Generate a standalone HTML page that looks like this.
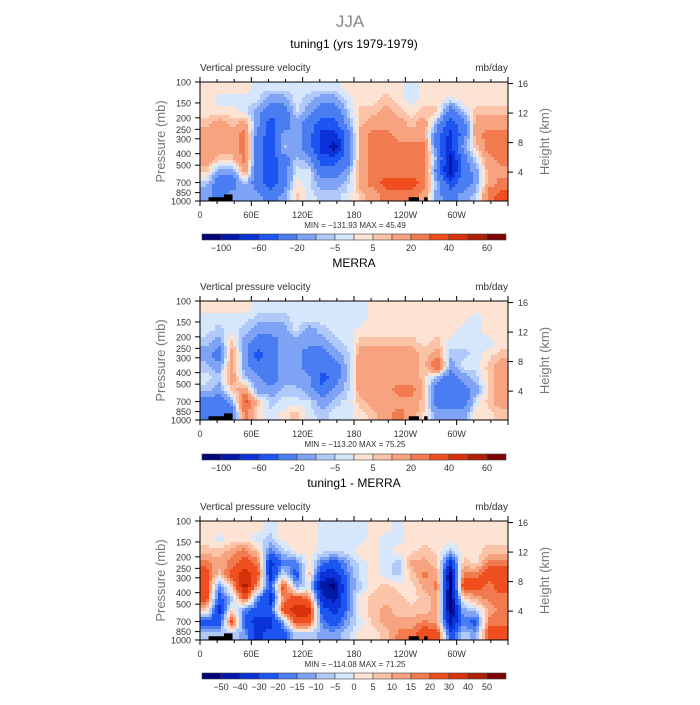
<!DOCTYPE html>
<html><head><meta charset="utf-8"><style>
body{margin:0;background:#fff;}
svg text{font-family:"Liberation Sans",sans-serif;}
</style></head><body>
<svg id="chart" width="700" height="700" xmlns="http://www.w3.org/2000/svg">
<rect width="700" height="700" fill="#fff"/>
<text x="350" y="27" text-anchor="middle" font-size="17" fill="#888">JJA</text>
</svg>
<script>
const longitudes = [0,60,120,180,240,300];
const lonLabels = ["0","60E","120E","180","120W","60W"];
const presLevels = [100,150,200,250,300,400,500,700,850,1000];
const heightTicks = [16,12,8,4];
const panelTitles = ["tuning1 (yrs 1979-1979)","MERRA","tuning1 - MERRA"];
const minMaxText = ["MIN = \u2212131.93   MAX =   45.49","MIN = \u2212113.20   MAX =   75.25","MIN = \u2212114.08   MAX =   71.25"];
const levelsAbs = [-100,-80,-60,-40,-20,-10,-5,0,5,10,20,30,40,50,60];
const levelsDiff = [-50,-40,-30,-20,-15,-10,-5,0,5,10,15,20,30,40,50];
const labelsAbs = ["\u2212100","\u221260","\u221220","\u22125","5","20","40","60"];
const labelsDiff = ["\u221250","\u221240","\u221230","\u221220","\u221215","\u221210","\u22125","0","5","10","15","20","30","40","50"];
const palette = ["#00007a","#0018a8","#0a32d8","#1c55f2","#4a7cf2","#7fa3f4","#b0c9f8","#d6e6fb","#fde3d4","#fbc4a8","#f7a37f","#f27a4f","#ef4e1e","#d8320c","#b01e04","#7e0202"];
const tuningGrid = [
[3,3,3,7,15,15,15,7,-7,-15],[3,-3,3,15,15,15,7,-15,-30,-30],[3,-3,3,7,15,15,7,-15,-30,-15],[3,-3,-3,15,25,25,25,15,-7,-15],
[-3,-3,-15,-15,-30,-30,-30,-30,-30,-15],[-3,-15,-30,-50,-50,-50,-50,-50,-50,-30],[-3,-15,-30,-30,-15,-7,-30,-30,-30,-15],[-3,-3,-3,-15,-15,-15,-7,-3,3,7],
[-3,-7,-15,-30,-30,-30,-15,-3,-3,-3],[-3,-15,-30,-50,-70,-70,-50,-30,-15,-7],[-3,-15,-30,-50,-70,-90,-50,-30,-15,-7],[3,-3,-7,-15,-30,-30,-30,-15,-7,-3],
[3,3,7,7,15,15,15,15,15,7],[3,3,7,15,25,25,25,25,25,15],[3,7,15,15,25,25,25,25,35,25],[3,3,7,15,15,25,25,25,35,25],
[-3,-3,3,7,15,25,25,25,35,25],[3,3,7,15,15,25,25,25,25,15],[3,3,7,-15,-30,-30,-15,-30,-15,-15],[3,-3,-30,-50,-70,-70,-90,-90,-50,-30],
[3,3,-7,-30,-30,-15,-30,-30,-30,-15],[3,3,7,15,15,7,-3,-15,-15,-7],[3,3,7,15,25,25,15,15,15,25],[3,3,7,15,25,25,25,15,25,35]];
const merraGrid = [
[3,-3,-3,-7,-15,-7,-3,-7,-30,-30],[3,-3,-7,-15,-30,-15,-7,-15,-30,-30],[3,-3,-3,7,15,15,15,7,-15,-30],[3,-3,-7,-15,-15,-15,-7,15,35,25],
[-3,-7,-15,-30,-50,-30,-15,-15,7,3],[-3,-7,-15,-30,-30,-30,-30,-15,-7,-3],[-3,-7,-15,-15,-15,-15,-15,-7,-3,3],[-3,-3,-3,-15,-15,-15,-15,-7,-3,7],
[-3,-3,-15,-15,-30,-30,-15,-15,-3,-3],[-3,-3,-7,-15,-30,-30,-50,-30,-15,-7],[-3,-3,-3,-7,-15,-30,-30,-15,-7,-3],[-3,-3,-3,-3,-7,-7,-7,-7,-3,-3],
[-3,-3,3,7,15,15,15,15,7,3],[3,3,3,7,15,15,15,15,15,7],[3,3,3,7,15,15,15,15,15,15],[3,3,3,7,15,15,15,25,15,25],
[3,3,3,7,15,15,15,25,15,15],[3,3,3,3,7,7,7,7,7,3],[3,3,3,7,15,35,-15,-30,-30,-15],[3,3,3,-3,-7,-15,-30,-30,-30,-15],
[3,3,-3,-3,-7,-3,-15,-30,-30,-15],[3,-3,-3,-3,-3,-3,-7,-15,-3,3],[3,3,3,-3,3,7,7,7,7,3],[3,3,3,3,7,15,15,15,15,7]];
const diffGrid = [
[3,3,7,17,25,25,25,7,-25,-7],[3,-3,7,12,7,-17,-25,-35,-25,-7],[3,3,12,17,25,7,-7,3,25,-7],[3,3,17,25,35,45,25,-17,-25,-12],
[3,-3,7,17,25,12,-17,-25,-35,-35],[-3,-7,-17,-35,-35,-25,-35,-25,-35,-25],[3,3,-7,-17,-3,25,17,25,-12,-25],[3,3,3,-17,-25,-12,25,35,25,-7],
[3,3,3,3,7,-3,17,35,25,-7],[-3,-3,-3,-17,-35,-45,-35,-25,-17,-12],[-3,-3,-3,-25,-35,-55,-45,-35,-25,-12],[-3,-3,-3,-12,-17,-17,-17,-17,-12,-7],
[-3,-3,3,-3,-3,-7,3,3,-3,3],[3,3,3,3,3,3,7,7,7,3],[3,-3,-3,-3,-3,7,7,12,12,7],[-3,-3,3,-7,-7,3,7,7,12,17],
[3,3,3,12,7,3,3,7,12,17],[3,3,7,12,17,12,7,7,17,25],[3,3,3,7,12,17,12,12,12,25],[3,3,-7,-35,-55,-55,-55,-55,-45,-25],
[3,3,3,7,17,25,3,-12,-17,-7],[3,3,3,3,17,25,12,-7,-25,-12],[3,3,7,17,25,17,17,12,17,25],[3,3,7,17,25,25,17,17,17,25]];
const terrain = [[10,30,930],[28,38,880],[244,256,930],[262,266,930]];

const svg = document.getElementById('chart');
const NS = "http://www.w3.org/2000/svg";
function mk(tag, attrs, parent){const e=document.createElementNS(NS,tag);for(const k in attrs)e.setAttribute(k,attrs[k]);(parent||svg).appendChild(e);return e;}
const X0=200, X1=508, H=119;
function xScale(lon){return X0+(lon/360)*(X1-X0);}
function classify(v,levels){let i=0;while(i<levels.length&&v>=levels[i])i++;return i;}
function sample(grid,fc,fr){
  const nc=grid.length,nr=grid[0].length;
  fc=Math.max(0,Math.min(nc-1,fc)); fr=Math.max(0,Math.min(nr-1,fr));
  const c0=Math.floor(fc),r0=Math.floor(fr),c1=Math.min(nc-1,c0+1),r1=Math.min(nr-1,r0+1);
  const a=fc-c0,b=fr-r0;
  return (grid[c0][r0]*(1-a)+grid[c1][r0]*a)*(1-b)+(grid[c0][r1]*(1-a)+grid[c1][r1]*a)*b;
}

const panels=[{top:82,grid:tuningGrid,levels:levelsAbs,labels:labelsAbs,cb:234,name:'tuning1'},
 {top:301,grid:merraGrid,levels:levelsAbs,labels:labelsAbs,cb:454,name:'merra'},
 {top:521,grid:diffGrid,levels:levelsDiff,labels:labelsDiff,cb:673,name:'difference'}];

panels.forEach((P,pi)=>{
  const yScale=p=>P.top+Math.log(p/100)/Math.log(10)*H;
  const g=mk('g',{});
  
  
  const t=mk('text',{x:354,y:P.top-34,'text-anchor':'middle','font-size':12,fill:'#000'},g);t.textContent=panelTitles[pi];
  
  
  const vt=mk('text',{x:X0,y:P.top-11,'font-size':10,fill:'#333'},g);vt.textContent="Vertical pressure velocity";
  
  
  const ut=mk('text',{x:X1,y:P.top-11,'font-size':10,fill:'#333','text-anchor':'end'},g);ut.textContent="mb/day";
  
  
  const ncol=P.grid.length, nrow=P.grid[0].length;
  const cells=mk('g',{'shape-rendering':'crispEdges'},g);
  
  
  const step=3;
  for(let px=X0;px<X1;px+=step){
    for(let py=P.top;py<P.top+H;py+=step){
      const lon=((px+step/2-X0)/(X1-X0))*360;
      const fracY=(py+step/2-P.top)/H;
      const fc=lon/(360/ncol)-0.5, fr=fracY*nrow-0.5;
      const v=sample(P.grid,fc,fr);
      const r=mk('rect',{x:px,y:py,width:Math.min(step,X1-px)+0.3,height:Math.min(step,P.top+H-py)+0.3,fill:palette[classify(v,P.levels)]},cells);
      
      
    }
  }
  terrain.forEach(tr=>{
    const r=mk('rect',{x:xScale(tr[0]),y:yScale(tr[2]),width:xScale(tr[1])-xScale(tr[0]),height:P.top+H-yScale(tr[2]),fill:'#000'},g);
    
    
  });
  const fr=mk('rect',{x:X0,y:P.top,width:X1-X0,height:H,fill:'none',stroke:'#000','stroke-width':1},g);
  
  
  for(let lon=0;lon<=360;lon+=20){
    const x=xScale(lon), L=(lon%60===0)?5:3;
    mk('line',{x1:x,x2:x,y1:P.top,y2:P.top-L,stroke:'#000'},g);
    mk('line',{x1:x,x2:x,y1:P.top+H,y2:P.top+H+L,stroke:'#000'},g);
  }
  longitudes.forEach((lon,i)=>{
    const t=mk('text',{x:xScale(lon),y:P.top+H+17,'text-anchor':'middle','font-size':9,fill:'#333'},g);t.textContent=lonLabels[i];
    
    
  });
  presLevels.forEach(p=>{
    const y=yScale(p);
    mk('line',{x1:X0,x2:X0-5,y1:y,y2:y,stroke:'#000'},g);
    const t=mk('text',{x:X0-9,y:y+3.5,'text-anchor':'end','font-size':9,fill:'#333'},g);t.textContent=p;
    
    
  });
  heightTicks.forEach(km=>{
    const p=1013*Math.exp(-km/7);
    const y=yScale(p);
    mk('line',{x1:X1,x2:X1+5,y1:y,y2:y,stroke:'#000'},g);
    const t=mk('text',{x:X1+10,y:y+3.5,'font-size':9,fill:'#333'},g);t.textContent=km;
    
    
  });
  const yl=mk('text',{x:0,y:0,'text-anchor':'middle','font-size':13,fill:'#777',transform:`translate(165,${P.top+H/2}) rotate(-90)`},g);yl.textContent="Pressure (mb)";
  
  
  const yr=mk('text',{x:0,y:0,'text-anchor':'middle','font-size':13,fill:'#777',transform:`translate(549,${P.top+H/2}) rotate(-90)`},g);yr.textContent="Height (km)";
  
  
  const mm=mk('text',{x:355,y:P.top+H+27,'text-anchor':'middle','font-size':8,fill:'#333'},g);mm.textContent=minMaxText[pi];
  
  
  const cb=mk('g',{},g);
  
  
  const cx0=202, bw=19;
  palette.forEach((c,i)=>{
    const r=mk('rect',{x:cx0+i*bw,y:P.cb,width:bw,height:6,fill:c,stroke:'#444','stroke-width':0.6},cb);
    
    
  });
  const stp = P.labels.length===8?2:1;
  P.labels.forEach((lb,i)=>{
    const idx = stp===2 ? 1+2*i : 1+i;
    const t=mk('text',{x:cx0+idx*bw,y:P.cb+17,'text-anchor':'middle','font-size':9,fill:'#333'},cb);t.textContent=lb;
    
    
  });
});
</script>
</body></html>
